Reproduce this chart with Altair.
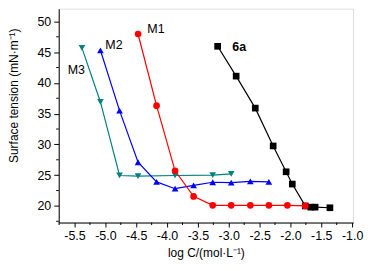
import altair as alt
import pandas as pd

# ---- data ----
m1_x = [-4.47, -4.17, -3.87, -3.57, -3.26, -2.96, -2.65, -2.35, -2.05, -1.76]
m1_y = [47.95, 36.3, 25.7, 21.55, 20.1, 20.1, 20.1, 20.1, 20.1, 20.0]
m2_x = [-5.08, -4.77, -4.47, -4.17, -3.87, -3.57, -3.26, -2.96, -2.65, -2.35]
m2_y = [45.3, 35.5, 27.1, 23.9, 22.8, 23.35, 23.85, 23.8, 24.0, 23.9]
m3_x = [-5.38, -5.08, -4.77, -4.47, -3.87, -3.26, -2.96]
m3_y = [45.7, 36.9, 24.95, 24.85, 24.95, 25.0, 25.2]
s6a_x = [-3.18, -2.88, -2.57, -2.28, -2.07, -1.97, -1.76, -1.67, -1.60, -1.36]
s6a_y = [45.95, 41.1, 35.9, 29.75, 25.55, 23.55, 20.0, 19.8, 19.8, 19.7]

series = ["6a", "M3", "M2", "M1"]
colors = ["#000000", "#008080", "#0000FF", "#FF0000"]
shapes = ["square", "triangle-down", "triangle-up", "circle"]

label_text = ["M1", "M2", "M3", "6a"]
label_x = [-4.18, -4.86, -5.47, -2.83]
label_y = [48.8, 46.1, 42.1, 45.85]
label_bold = [False, False, False, True]

x_major = [-5.5, -5.0, -4.5, -4.0, -3.5, -3.0, -2.5, -2.0, -1.5, -1.0]
x_minor = [-5.75, -5.25, -4.75, -4.25, -3.75, -3.25, -2.75, -2.25, -1.75, -1.25]
y_major = [20, 25, 30, 35, 40, 45, 50]
y_minor = [17.5, 22.5, 27.5, 32.5, 37.5, 42.5, 47.5]

rows = []
for name, xs, ys in [("6a", s6a_x, s6a_y), ("M3", m3_x, m3_y),
                     ("M2", m2_x, m2_y), ("M1", m1_x, m1_y)]:
    for i, (a, b) in enumerate(zip(xs, ys)):
        rows.append({"series": name, "x": a, "y": b, "i": i})
df = pd.DataFrame(rows)
labels = pd.DataFrame({"t": label_text, "x": label_x, "y": label_y, "b": label_bold})

FONT = "Liberation Sans"
W, H = 296, 215

xscale = alt.Scale(domain=[-5.756, -0.985], nice=False, zero=False)
yscale = alt.Scale(domain=[17.3, 52.06], nice=False, zero=False)

xaxis = alt.Axis(
    values=x_major,
    labelExpr="replace(format(datum.value,'.1f'),'\u2212','-')",
    tickSize=4.5, labelOverlap=False, labelFlush=False, labelBound=False, grid=False,
    domainColor="black", tickColor="black",
    labelFont=FONT, labelFontSize=12.5, labelColor="black", labelPadding=3,
    title="log C/(mol\u00b7L\u207b\u00b9)", titleFont=FONT, titleFontSize=12,
    titleFontWeight="normal", titleColor="black", titlePadding=5,
)
yaxis = alt.Axis(
    values=y_major, format="d",
    tickSize=5, labelOverlap=False, grid=False,
    domainColor="black", tickColor="black",
    labelFont=FONT, labelFontSize=12.5, labelColor="black", labelPadding=3,
    title="Surface tension (mN\u00b7m\u207b\u00b9)", titleFont=FONT, titleFontSize=12,
    titleFontWeight="normal", titleColor="black", titleX=-38, titleY=87,
)

color = alt.Color("series:N", scale=alt.Scale(domain=series, range=colors), legend=None)
shape = alt.Shape("series:N", scale=alt.Scale(domain=series, range=shapes), legend=None)

base = alt.Chart(df).encode(
    x=alt.X("x:Q", scale=xscale, axis=xaxis),
    y=alt.Y("y:Q", scale=yscale, axis=yaxis),
    color=color,
    detail="series:N",
)

lines = base.mark_line(strokeWidth=1.2).encode(order="i:Q")
points = base.mark_point(filled=True, opacity=1, size=45).encode(shape=shape)

text_base = alt.Chart(labels).encode(
    x=alt.X("x:Q", scale=xscale, axis=xaxis),
    y=alt.Y("y:Q", scale=yscale, axis=yaxis),
    text="t:N",
)
text_norm = text_base.mark_text(font=FONT, fontSize=12.5, color="black").transform_filter("!datum.b")
text_bold = text_base.mark_text(font=FONT, fontSize=12.5, color="black", fontWeight="bold").transform_filter("datum.b")

xminor = alt.Chart(pd.DataFrame({"v": x_minor})).mark_rule(color="black", strokeWidth=1).encode(
    x=alt.X("v:Q", scale=xscale, axis=xaxis), y=alt.value(H), y2=alt.value(H + 2.5))
yminor = alt.Chart(pd.DataFrame({"v": y_minor})).mark_rule(color="black", strokeWidth=1).encode(
    y=alt.Y("v:Q", scale=yscale, axis=yaxis), x=alt.value(0), x2=alt.value(-2.5))

chart = alt.layer(lines, points, text_norm, text_bold, xminor, yminor).properties(
    width=W, height=H,
    autosize=alt.AutoSizeParams(type="none"),
    padding={"left": 51, "top": 0, "right": 12, "bottom": 45},
).configure_view(stroke="black", strokeWidth=1).configure(background="white")

chart.save("out.html", embed_options={"renderer": "svg", "actions": False})
